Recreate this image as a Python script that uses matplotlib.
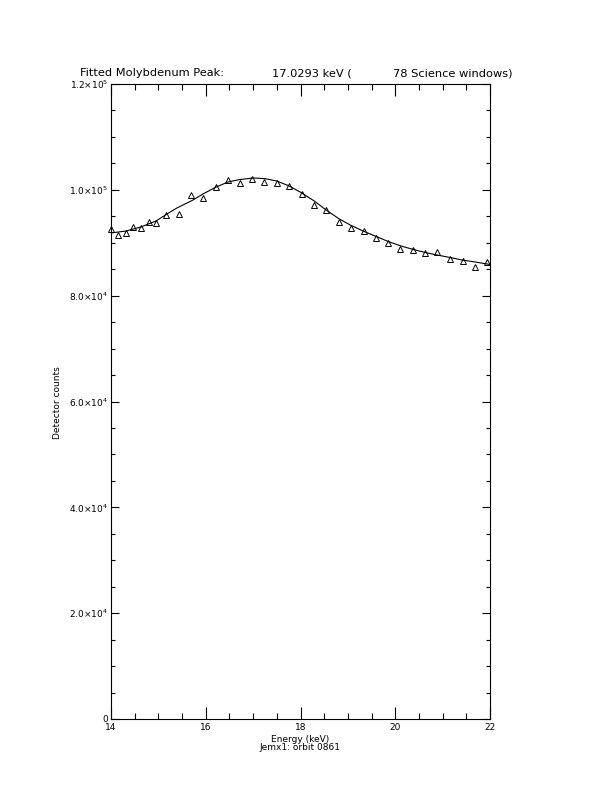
import numpy as np
import matplotlib
matplotlib.use('Agg')
import matplotlib.pyplot as plt
from matplotlib.ticker import MultipleLocator, FixedLocator

# Measured spectrum (energy in keV, detector counts)
energy = [14.01, 14.15, 14.32, 14.47, 14.63, 14.80, 14.96, 15.17, 15.43, 15.69,
          15.95, 16.21, 16.46, 16.73, 16.98, 17.24, 17.50, 17.76, 18.03, 18.29,
          18.54, 18.81, 19.07, 19.33, 19.59, 19.85, 20.11, 20.37, 20.63, 20.89,
          21.16, 21.42, 21.68, 21.94]
counts = [92600, 91410, 91900, 92980, 92790, 93920, 93790, 95300, 95490, 99080,
          98520, 100590, 101860, 101240, 102110, 101480, 101350, 100630, 99210, 97190,
          96250, 93870, 92790, 92220, 90900, 89950, 88820, 88570, 88010, 88200,
          86870, 86550, 85420, 86360]

# Fitted curve
fit_energy = [14.00, 14.32, 14.63, 14.95, 15.18, 15.39, 15.73, 15.94, 16.22, 16.47,
              16.72, 17.02, 17.25, 17.50, 17.76, 18.01, 18.29, 18.54, 18.82, 19.07,
              19.32, 19.60, 19.85, 20.12, 20.38, 20.63, 20.88, 21.16, 21.41, 21.69, 22.00]
fit_counts = [91850, 92220, 92980, 94110, 95430, 96560, 98070, 99210, 100530, 101480,
              101950, 102240, 102110, 101670, 100730, 99500, 97890, 96190, 94490, 93260,
              92220, 91180, 90240, 89390, 88730, 88160, 87690, 87210, 86740, 86360, 85890]

ytick_vals = [0, 20000, 40000, 60000, 80000, 100000, 120000]
ytick_labels = ['0', r'2.0$\times$10$^4$', r'4.0$\times$10$^4$', r'6.0$\times$10$^4$',
                r'8.0$\times$10$^4$', r'1.0$\times$10$^5$', r'1.2$\times$10$^5$']
xtick_vals = [14, 16, 18, 20, 22]

# title pieces (IDL pads them with wide blanks)
title_parts = ['Fitted Molybdenum Peak:', '17.0293 keV (', '78 Science windows)']
title_x = [80, 272, 393]

W, H = 612, 792
fig = plt.figure(figsize=(W / 100, H / 100), dpi=100)
ax = fig.add_axes([111 / W, (H - 719) / H, (490 - 111) / W, (719 - 84) / H])

ax.plot(fit_energy, fit_counts, color='black', lw=0.8)
ax.plot(energy, counts, linestyle='none', marker='^', markersize=4.5,
        markerfacecolor='none', markeredgecolor='black', markeredgewidth=0.7,
        clip_on=False)

ax.set_xlim(14, 22)
ax.set_ylim(0, 120000)
ax.xaxis.set_major_locator(FixedLocator(xtick_vals))
ax.xaxis.set_minor_locator(MultipleLocator(0.5))
ax.yaxis.set_major_locator(FixedLocator(ytick_vals))
ax.yaxis.set_minor_locator(MultipleLocator(5000))
ax.set_xticklabels([str(v) for v in xtick_vals])
ax.set_yticklabels(ytick_labels)

for s in ax.spines.values():
    s.set_linewidth(0.8)
ax.tick_params(axis='both', which='both', direction='in', top=True, right=True,
               width=0.8, labelsize=6.5, pad=3)
ax.tick_params(axis='x', which='major', length=8.5)
ax.tick_params(axis='x', which='minor', length=4.3)
ax.tick_params(axis='y', which='major', length=5.5)
ax.tick_params(axis='y', which='minor', length=2.8)
ax.tick_params(axis='y', which='major', pad=2)

for txt, xp in zip(title_parts, title_x):
    fig.text(xp / W, 1 - 73 / H, txt, fontsize=8.2, ha='left', va='center')
fig.text(58 / W, 1 - 403 / H, 'Detector counts', rotation=90, fontsize=6.5,
         ha='center', va='center')
fig.text(300 / W, 1 - 739 / H, 'Energy (keV)', fontsize=6.5, ha='center', va='center')
fig.text(300 / W, 1 - 747 / H, 'Jemx1: orbit 0861', fontsize=6.5, ha='center', va='center')

fig.savefig('out.png', dpi=100)
